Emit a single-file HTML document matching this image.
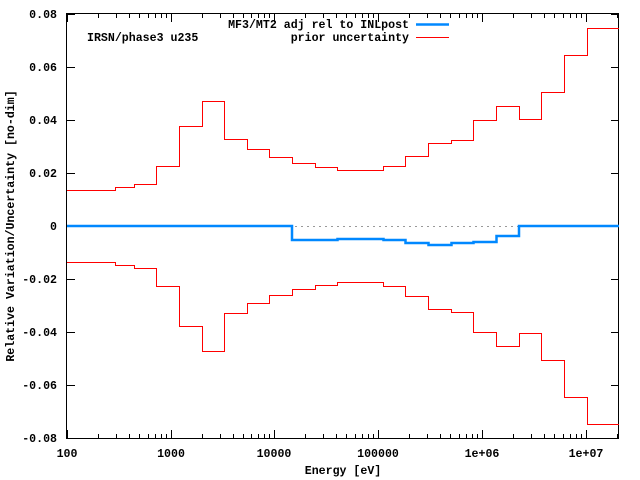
<!DOCTYPE html>
<html><head><style>body{margin:0;background:#fff}svg{display:block}text{font-family:"Liberation Mono",monospace;font-size:11.6px;font-weight:bold;fill:#000}</style></head><body>
<svg width="640" height="480" xmlns="http://www.w3.org/2000/svg">
<rect x="0" y="0" width="640" height="480" fill="#fff"/>
<g stroke="#000" stroke-width="1" fill="none">
<rect x="66.5" y="13.5" width="552" height="425"/>
<path d="M67 14.5h8M67 67.5h8M67 120.5h8M67 173.5h8M67 226.5h8M67 279.5h8M67 332.5h8M67 385.5h8M67 438.5h8
M619 14.5h-8M619 67.5h-8M619 120.5h-8M619 173.5h-8M619 226.5h-8M619 279.5h-8M619 332.5h-8M619 385.5h-8M619 438.5h-8"/>
<path d="M67.5 438v-8M171.5 438v-8M274.5 438v-8M378.5 438v-8M482.5 438v-8M586.5 438v-8
M67.5 14v8M171.5 14v8M274.5 14v8M378.5 14v8M482.5 14v8M586.5 14v8"/>
<path d="M98.5 438v-4M116.5 438v-4M129.5 438v-4M139.5 438v-4M148.5 438v-4M155.5 438v-4M161.5 438v-4M166.5 438v-4
M202.5 438v-4M220.5 438v-4M233.5 438v-4M243.5 438v-4M251.5 438v-4M258.5 438v-4M264.5 438v-4M269.5 438v-4
M305.5 438v-4M323.5 438v-4M336.5 438v-4M346.5 438v-4M355.5 438v-4M362.5 438v-4M368.5 438v-4M373.5 438v-4
M409.5 438v-4M427.5 438v-4M440.5 438v-4M450.5 438v-4M459.5 438v-4M466.5 438v-4M472.5 438v-4M477.5 438v-4
M513.5 438v-4M531.5 438v-4M544.5 438v-4M554.5 438v-4M563.5 438v-4M570.5 438v-4M576.5 438v-4M581.5 438v-4
M617.5 438v-4
M98.5 14v4M116.5 14v4M129.5 14v4M139.5 14v4M148.5 14v4M155.5 14v4M161.5 14v4M166.5 14v4
M202.5 14v4M220.5 14v4M233.5 14v4M243.5 14v4M251.5 14v4M258.5 14v4M264.5 14v4M269.5 14v4
M305.5 14v4M323.5 14v4M336.5 14v4M346.5 14v4M355.5 14v4M362.5 14v4M368.5 14v4M373.5 14v4
M409.5 14v4M427.5 14v4M440.5 14v4M450.5 14v4M459.5 14v4M466.5 14v4M472.5 14v4M477.5 14v4
M513.5 14v4M531.5 14v4M544.5 14v4M554.5 14v4M563.5 14v4M570.5 14v4M576.5 14v4M581.5 14v4
M617.5 14v4"/>
</g>
<path d="M67 226.5H619" stroke="#999" stroke-dasharray="2,4" fill="none"/>
<path d="M67 190.5H115.5V187.5H134.5V184.5H156.5V166.5H179.5V126.5H202.5V101.5H224.5V139.5H247.5V149.5H269.5V157.5H292.5V163.5H315.5V167.5H337.5V170.5H383.5V166.5H405.5V156.5H428.5V143.5H451.5V140.5H473.5V120.5H496.5V106.5H519.5V119.5H541.5V92.5H564.5V55.5H587.5V28.5H619" stroke="#f00" stroke-width="1" fill="none"/>
<path d="M67 262.5H115.5V265.5H134.5V268.5H156.5V286.5H179.5V326.5H202.5V351.5H224.5V313.5H247.5V303.5H269.5V295.5H292.5V289.5H315.5V285.5H337.5V282.5H383.5V286.5H405.5V296.5H428.5V309.5H451.5V312.5H473.5V332.5H496.5V346.5H519.5V333.5H541.5V360.5H564.5V397.5H587.5V424.5H619" stroke="#f00" stroke-width="1" fill="none"/>
<path d="M67 226H292V240H337.5V239H383.5V240H405.5V243H428.5V245H451.5V243H473.5V242H496.5V236H519V226H619" stroke="#08f" stroke-width="2.5" fill="none"/>
<g text-anchor="end">
<text x="57" y="18">0.08</text><text x="57" y="71">0.06</text><text x="57" y="124">0.04</text><text x="57" y="177">0.02</text><text x="57" y="230">0</text><text x="57" y="283">-0.02</text><text x="57" y="336">-0.04</text><text x="57" y="389">-0.06</text><text x="57" y="442">-0.08</text>
<text x="409" y="28">MF3/MT2 adj rel to INLpost</text>
<text x="409" y="41">prior uncertainty</text>
</g>
<path d="M416 24.5H449" stroke="#08f" stroke-width="2.5"/>
<path d="M416 37.5H449" stroke="#f00" stroke-width="1"/>
<g text-anchor="middle">
<text x="67" y="457">100</text><text x="171" y="457">1000</text><text x="274" y="457">10000</text><text x="378" y="457">100000</text><text x="482" y="457">1e+06</text><text x="586" y="457">1e+07</text>
<text x="343" y="474">Energy [eV]</text>
</g>
<text x="87" y="41">IRSN/phase3 u235</text>
<text transform="translate(14,226) rotate(-90)" text-anchor="middle">Relative Variation/Uncertainty [no-dim]</text>
</svg>
</body></html>
